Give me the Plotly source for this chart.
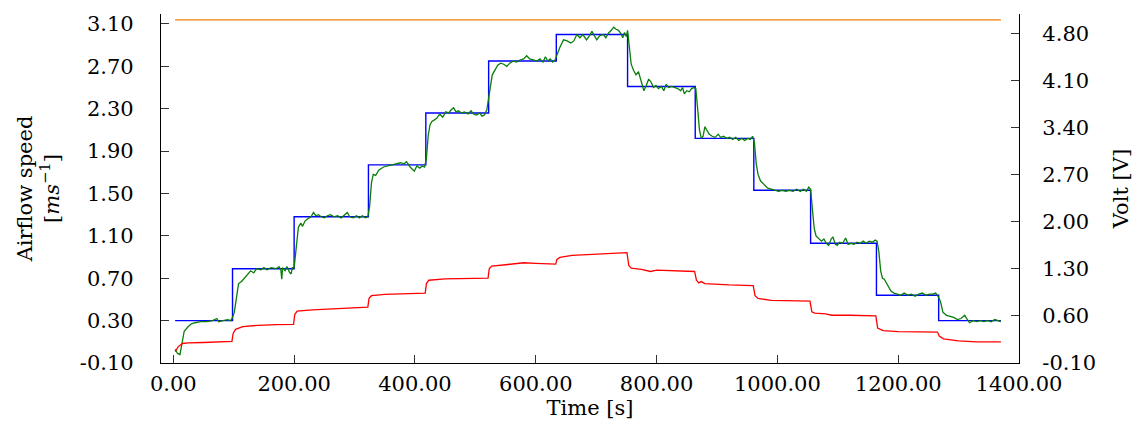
import plotly.graph_objects as go

# ---------------- data ----------------
# Set-point airflow speed [m/s] (step changes)
setpoint_t = [3, 98, 200, 323, 418, 522, 634, 752, 864, 961, 1055, 1164, 1267, 1370]
setpoint_v = [0.30, 0.79, 1.28, 1.77, 2.26, 2.75, 3.00, 2.51, 2.02, 1.53, 1.03, 0.54, 0.30, 0.30]

# Measured airflow speed [m/s]
measured_t = [
    3, 7, 11, 15, 18, 24, 30, 36, 45, 55, 65, 72, 75, 82, 90, 95, 98, 101, 104, 108,
    113, 118, 124, 128, 133, 138, 145, 150, 155, 162, 170, 175, 178, 179.5, 181, 185, 188, 192, 195, 197,
    200, 203, 207, 211, 214, 218, 222, 228, 232, 236, 240, 245, 250, 255, 260, 266, 272, 278, 285, 288,
    292, 298, 303, 308, 313, 318, 322, 325, 328, 331, 335, 340, 348, 355, 362, 370, 376, 382, 386, 392,
    396, 399, 403, 408, 412, 416, 419, 422, 425, 428, 431, 436, 441, 446, 451, 456, 460, 464, 468, 472,
    477, 482, 488, 493, 497, 502, 507, 511, 515, 519, 522, 525, 528, 532, 537, 542, 547, 552, 557, 563,
    568, 574, 580, 585, 590, 596, 602, 607, 612, 616, 620, 624, 628, 632, 636, 640, 646, 652, 658, 663,
    668, 673, 678, 684, 689, 693, 697, 701, 706, 712, 716, 720, 725, 729, 733, 737, 741, 744, 747, 750,
    752, 755, 758, 762, 766, 770, 774, 779, 783, 787, 791, 795, 799, 803, 808, 812, 816, 820, 825, 830,
    835, 840, 843, 846, 850, 854, 858, 862, 865, 868, 871, 874, 877, 880, 883, 887, 892, 897, 902, 906,
    911, 916, 921, 926, 931, 936, 941, 946, 951, 955, 959, 962, 965, 968, 972, 978, 984, 990, 996, 1002,
    1008, 1014, 1020, 1026, 1032, 1038, 1043, 1048, 1052, 1055, 1058, 1061, 1064, 1068, 1073, 1077, 1081, 1085, 1089, 1092,
    1096, 1099, 1103, 1108, 1113, 1117, 1122, 1127, 1132, 1137, 1142, 1147, 1152, 1157, 1162, 1165, 1168, 1171, 1174, 1177,
    1180, 1184, 1188, 1193, 1198, 1204, 1210, 1216, 1222, 1228, 1234, 1240, 1246, 1252, 1257, 1262, 1266, 1270, 1274, 1280,
    1286, 1292, 1298, 1304, 1310, 1314, 1318, 1324, 1330, 1336, 1342, 1348, 1354, 1360, 1366, 1370,
]
measured_v = [
    0.03, -0.01, -0.02, 0.10, 0.20, 0.24, 0.27, 0.28, 0.29, 0.29, 0.30, 0.32, 0.29, 0.30, 0.31, 0.30, 0.33, 0.38, 0.52, 0.65,
    0.67, 0.70, 0.74, 0.77, 0.75, 0.79, 0.78, 0.80, 0.78, 0.80, 0.79, 0.81, 0.78, 0.69, 0.80, 0.77, 0.81, 0.76, 0.74, 0.80,
    0.80, 0.95, 1.18, 1.22, 1.19, 1.24, 1.26, 1.28, 1.32, 1.29, 1.30, 1.28, 1.27, 1.29, 1.30, 1.28, 1.29, 1.27, 1.30, 1.32,
    1.28, 1.27, 1.29, 1.27, 1.29, 1.27, 1.28, 1.38, 1.60, 1.68, 1.67, 1.72, 1.75, 1.76, 1.77, 1.78, 1.79, 1.78, 1.80, 1.75,
    1.73, 1.71, 1.76, 1.74, 1.76, 1.75, 1.83, 2.05, 2.15, 2.18, 2.19, 2.21, 2.25, 2.22, 2.27, 2.26, 2.29, 2.31, 2.27, 2.28,
    2.26, 2.27, 2.25, 2.28, 2.25, 2.24, 2.26, 2.23, 2.24, 2.29, 2.40, 2.52, 2.62, 2.66, 2.71, 2.73, 2.72, 2.70, 2.73, 2.75,
    2.74, 2.76, 2.77, 2.80, 2.77, 2.76, 2.75, 2.77, 2.74, 2.79, 2.75, 2.77, 2.74, 2.76, 2.82, 2.88, 2.95, 2.94, 2.92, 2.94,
    3.00, 2.97, 3.00, 2.95, 2.99, 3.03, 2.99, 2.95, 2.99, 3.00, 2.97, 3.01, 3.04, 3.07, 3.05, 3.04, 3.01, 2.97, 3.02, 2.98,
    3.04, 2.85, 2.72, 2.66, 2.62, 2.65, 2.58, 2.47, 2.52, 2.58, 2.55, 2.50, 2.52, 2.49, 2.51, 2.47, 2.53, 2.50, 2.51, 2.50,
    2.49, 2.47, 2.50, 2.44, 2.47, 2.46, 2.49, 2.50, 2.49, 2.30, 2.10, 2.02, 2.04, 2.13, 2.10, 2.06, 2.04, 2.03, 2.06, 2.03,
    2.04, 2.02, 2.03, 2.01, 2.03, 2.00, 2.02, 2.00, 2.02, 2.01, 2.04, 1.98, 1.78, 1.68, 1.62, 1.58, 1.55, 1.54, 1.53, 1.52,
    1.53, 1.52, 1.53, 1.52, 1.54, 1.52, 1.54, 1.52, 1.56, 1.54, 1.35, 1.17, 1.10, 1.08, 1.05, 1.07, 1.03, 1.01, 1.07, 1.09,
    1.02, 1.01, 1.04, 1.03, 1.08, 1.02, 1.03, 1.02, 1.04, 1.03, 1.05, 1.03, 1.05, 1.04, 1.06, 1.05, 0.95, 0.77, 0.70, 0.69,
    0.66, 0.62, 0.58, 0.56, 0.55, 0.54, 0.56, 0.54, 0.55, 0.53, 0.55, 0.56, 0.54, 0.55, 0.55, 0.56, 0.53, 0.48, 0.38, 0.35,
    0.34, 0.33, 0.31, 0.32, 0.35, 0.31, 0.28, 0.30, 0.29, 0.30, 0.29, 0.30, 0.29, 0.31, 0.30, 0.29,
]

# Control voltage [V] (right axis)
voltage_t = [
    3, 8, 15, 25, 50, 97, 99, 103, 115, 140, 170, 199, 201, 205, 230, 260, 300, 322, 324, 328,
    350, 390, 417, 419, 423, 450, 490, 521, 523, 527, 550, 580, 600, 633, 635, 640, 660, 690, 720, 751,
    754, 758, 775, 790, 800, 830, 863, 866, 870, 874, 880, 920, 960, 963, 968, 990, 1054, 1057, 1062, 1080,
    1090, 1120, 1163, 1166, 1175, 1200, 1265, 1268, 1275, 1300, 1330, 1370,
]
voltage_v = [
    0.07, 0.14, 0.19, 0.20, 0.205, 0.22, 0.34, 0.40, 0.44, 0.46, 0.47, 0.475, 0.62, 0.67, 0.69, 0.70, 0.72, 0.73, 0.86, 0.90,
    0.92, 0.935, 0.94, 1.08, 1.13, 1.15, 1.16, 1.16, 1.30, 1.34, 1.36, 1.39, 1.38, 1.37, 1.44, 1.47, 1.50, 1.51, 1.53, 1.54,
    1.35, 1.31, 1.29, 1.26, 1.28, 1.27, 1.26, 1.13, 1.09, 1.11, 1.08, 1.06, 1.05, 0.90, 0.86, 0.83, 0.82, 0.66, 0.64, 0.63,
    0.61, 0.61, 0.60, 0.42, 0.38, 0.365, 0.36, 0.30, 0.26, 0.23, 0.215, 0.215,
]

# Supply voltage [V] (right axis)
supply_t = [3, 1370]
supply_v = [5.0, 5.0]

# Tick labels
x_ticks = [0, 200, 400, 600, 800, 1000, 1200, 1400]
left_ticks = [-0.10, 0.30, 0.70, 1.10, 1.50, 1.90, 2.30, 2.70, 3.10]
right_ticks = [-0.10, 0.60, 1.30, 2.00, 2.70, 3.40, 4.10, 4.80]

# ---------------- figure ----------------
FONT = "DejaVu Serif"
FS = 21
fig = go.Figure()

fig.add_trace(go.Scatter(x=setpoint_t, y=setpoint_v, mode="lines", line_shape="hv",
                         line=dict(color="#0000ff", width=1.4), yaxis="y", showlegend=False))
fig.add_trace(go.Scatter(x=measured_t, y=measured_v, mode="lines",
                         line=dict(color="#0a7d0a", width=1.3), yaxis="y", showlegend=False))
fig.add_trace(go.Scatter(x=voltage_t, y=voltage_v, mode="lines",
                         line=dict(color="#ff0000", width=1.3), yaxis="y2", showlegend=False))
fig.add_trace(go.Scatter(x=supply_t, y=supply_v, mode="lines",
                         line=dict(color="#f08000", width=1.4), yaxis="y2", showlegend=False))

axis_common = dict(showgrid=False, zeroline=False, showline=True, linecolor="black", linewidth=1.3,
                   ticks="inside", ticklen=8, tickcolor="#333333", tickwidth=1.2,
                   tickfont=dict(family=FONT, size=FS, color="black"))

fig.update_layout(
    width=1141, height=427,
    margin=dict(l=161, r=122, t=14, b=64, pad=0),
    paper_bgcolor="white", plot_bgcolor="white",
    font=dict(family=FONT, size=FS, color="black"),
    xaxis=dict(range=[-20.4, 1400], tickvals=x_ticks, ticktext=[f"{v:.2f}" for v in x_ticks],
               title=dict(text="Time [s]", standoff=4, font=dict(family=FONT, size=FS)),
               ticklabelstandoff=2, **axis_common),
    yaxis=dict(range=[-0.1, 3.194], tickvals=left_ticks, ticktext=[f"{v:.2f}" for v in left_ticks],
               title=dict(text="Airflow speed<br>[<i>ms</i><sup>−1</sup>]", standoff=14,
                          font=dict(family=FONT, size=FS)),
               ticklabelstandoff=22, **axis_common),
    yaxis2=dict(range=[-0.1, 5.087], overlaying="y", side="right", anchor="x",
                tickvals=right_ticks, ticktext=[f"{v:.2f}" for v in right_ticks],
                title=dict(text="Volt [V]", standoff=18, font=dict(family=FONT, size=FS)),
                ticklabelstandoff=18, **axis_common),
)

fig.write_html("out.html")
